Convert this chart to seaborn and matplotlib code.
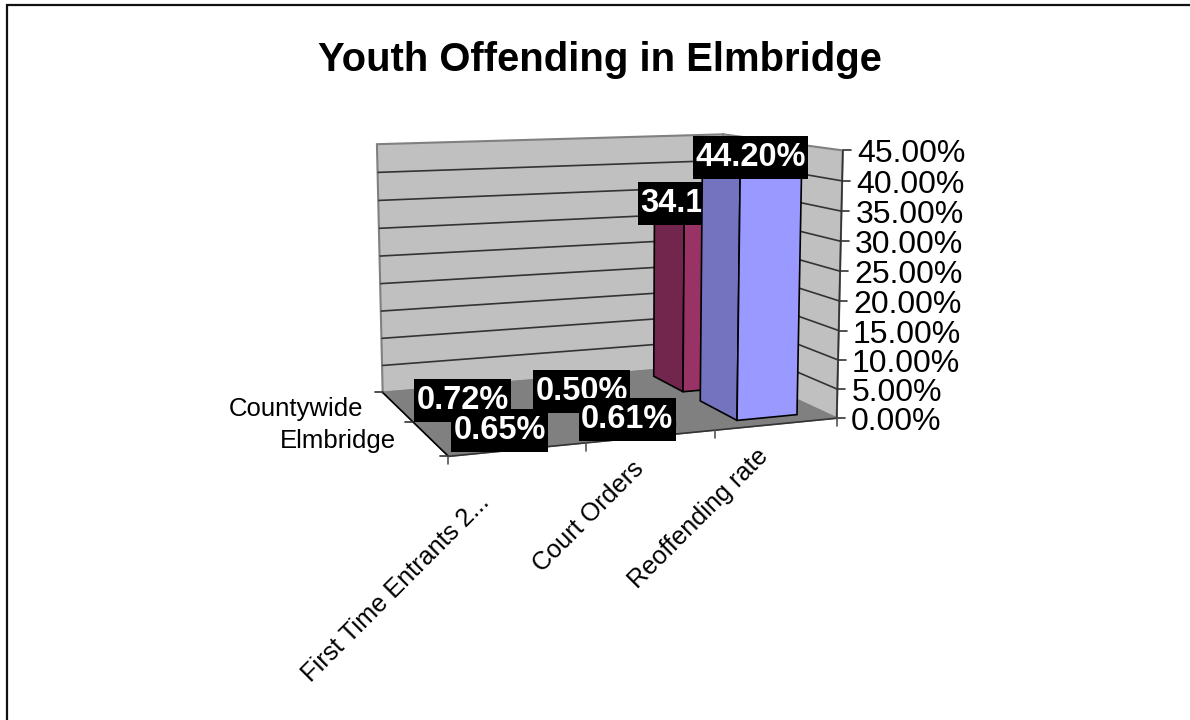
import numpy as np
import matplotlib
matplotlib.use("Agg")
import matplotlib.pyplot as plt
import seaborn as sns
from matplotlib.patches import Polygon, Rectangle

# ---- data ----
title = "Youth Offending in Elmbridge"
categories = ["First Time Entrants 2...", "Court Orders", "Reoffending rate"]
series_names = ["Elmbridge", "Countywide"]
elmbridge = [0.65, 0.61, 44.20]
countywide = [0.72, 0.50, 34.10]
value_ticks = [0, 5, 10, 15, 20, 25, 30, 35, 40, 45]

# ---- style ----
front_cols = {"Elmbridge": "#9999FF", "Countywide": "#993366"}
side_cols = {"Elmbridge": "#7373BF", "Countywide": "#73264D"}
top_cols = {"Elmbridge": "#B3B3FF", "Countywide": "#B35C85"}
WALL, FLOOR, EDGE, GRID = "#C0C0C0", "#808080", "#808080", "#333333"
cat_label_nudge = [(-41, 41), (-20, 20), (-21, 20)]
series_depth = {"Elmbridge": (0.20, 0.85), "Countywide": (1.18, 1.78)}

sns.set_theme(style="white")
plt.rcParams["font.family"] = ["Liberation Sans", "DejaVu Sans"]

fig = plt.figure(figsize=(11.9, 7.2), dpi=100)
ax = fig.add_axes([0, 0, 1, 1])
ax.set_xlim(0, 1190)
ax.set_ylim(720, 0)
ax.axis("off")

# ---- perspective of the chart box: (category, series, value) -> canvas ----
nc, ns, zmax = len(categories), len(series_names), value_ticks[-1]
box_world = np.array([[0, 0, 0], [nc, 0, 0], [0, ns, 0], [nc, ns, 0],
                      [0, ns, zmax], [nc, ns, zmax], [nc, 0, zmax]], float)
box_canvas = np.array([[448, 456], [837, 418], [383, 393], [720.5, 364.5],
                       [377, 144], [723, 134], [843, 151]], float)
A, b = [], []
for (X, Y, Z), (u, v) in zip(box_world, box_canvas):
    A.append([X, Y, Z, 1, 0, 0, 0, 0, -u * X, -u * Y, -u * Z]); b.append(u)
    A.append([0, 0, 0, 0, X, Y, Z, 1, -v * X, -v * Y, -v * Z]); b.append(v)
P = np.append(np.linalg.lstsq(np.array(A), np.array(b), rcond=None)[0], 1.0).reshape(3, 4)


def proj(x, y, z):
    h = P @ np.array([x, y, z, 1.0])
    return h[0] / h[2], h[1] / h[2]


def face(pts, fc, ec="black", lw=1.2, z=2):
    ax.add_patch(Polygon([proj(*p) for p in pts], closed=True, fc=fc, ec=ec, lw=lw, zorder=z,
                         joinstyle="miter"))


def seg(p, q, c, lw=1.2, z=2.5):
    a, b_ = proj(*p), proj(*q)
    ax.plot([a[0], b_[0]], [a[1], b_[1]], color=c, lw=lw, zorder=z, solid_capstyle="butt")


# chart border: only the top and left edges fall inside the picture
ax.plot([1190, 7, 7], [5, 5, 720], color="#111111", lw=1.6, zorder=1, solid_joinstyle="miter")
ax.text(600, 60, title, fontsize=28.8, fontweight="bold", ha="center", va="center", color="black")

# walls and floor
face([(0, ns, 0), (nc, ns, 0), (nc, ns, zmax), (0, ns, zmax)], WALL, EDGE, 1.5)
face([(nc, 0, 0), (nc, ns, 0), (nc, ns, zmax), (nc, 0, zmax)], WALL, EDGE, 1.5)
face([(0, 0, 0), (nc, 0, 0), (nc, ns, 0), (0, ns, 0)], FLOOR, EDGE, 1.0)

for v in value_ticks[1:-1]:
    seg((0, ns, v), (nc, ns, v), GRID)
    seg((nc, ns, v), (nc, 0, v), GRID)

# axes lines and ticks
seg((nc, 0, 0), (nc, 0, zmax), "#333333")
for v in value_ticks:
    x0, y0 = proj(nc, 0, v)
    ax.plot([x0, x0 + 8], [y0, y0], color="#333333", lw=1.2, zorder=2.5)
    ax.text(x0 + 14, y0 + 4, f"{v:.2f}%", fontsize=23, ha="left", va="center", color="black")
seg((0, 0, 0), (nc, 0, 0), "#333333")
seg((0, 0, 0), (0, ns, 0), "black")
for i in range(nc + 1):
    x0, y0 = proj(i, 0, 0)
    ax.plot([x0, x0], [y0, y0 + 8], color="#555555", lw=1.2, zorder=2.5)
for j in range(ns + 1):
    x0, y0 = proj(0, j, 0)
    ax.plot([x0 - 8, x0], [y0, y0], color="#333333", lw=1.2, zorder=2.5)

# category and series labels
for i, lab in enumerate(categories):
    x0, y0 = proj(i + 0.5, 0, 0)
    dx, dy = cat_label_nudge[i]
    ax.text(x0 + dx, y0 + dy, lab, fontsize=18.2, rotation=45, rotation_mode="anchor",
            ha="right", va="top", color="black")
for j, lab in enumerate(series_names):
    x0, y0 = proj(0, j + 0.5, 0)
    ax.text(x0 - 34, y0 + 2.5, lab, fontsize=18.5, ha="right", va="center", color="black")

# bars and data labels, back to front: each series' bars, then its labels,
# so the Elmbridge bar hides the end of the Countywide label
W0, W1 = 0.275, 0.775
values = {"Elmbridge": elmbridge, "Countywide": countywide}
fig.canvas.draw()
rend = fig.canvas.get_renderer()
z = 3
for j in (1, 0):
    name = series_names[j]
    y0, y1 = series_depth[name]
    for i in range(nc):
        v = values[name][i]
        x0, x1 = i + W0, i + W1
        z += 1
        face([(x0, y0, 0), (x0, y1, 0), (x0, y1, v), (x0, y0, v)], side_cols[name], z=z)
        face([(x0, y0, v), (x1, y0, v), (x1, y1, v), (x0, y1, v)], top_cols[name], z=z)
        face([(x0, y0, 0), (x1, y0, 0), (x1, y0, v), (x0, y0, v)], front_cols[name], z=z)
    for i in range(nc):
        v = values[name][i]
        lx, ly = proj(i + 0.5, j + 0.6, v)
        z += 2
        t = ax.text(lx + 7, ly + 6, f"{v:.2f}%", fontsize=23.5, fontweight="bold", color="white",
                    ha="center", va="center", zorder=z + 1)
        w = t.get_window_extent(rend).width + 5
        ax.add_patch(Rectangle((lx + 7 - w / 2, ly + 6 - 21.5), w, 43, fc="black", ec="none", zorder=z))

fig.savefig("out.png", dpi=100)
